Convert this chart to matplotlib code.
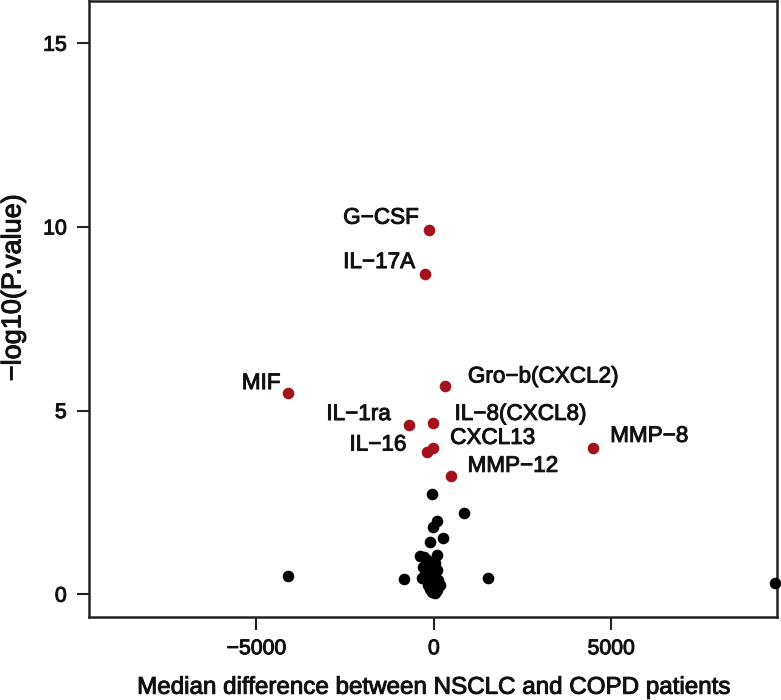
import matplotlib
matplotlib.use("Agg")
import matplotlib.pyplot as plt
import matplotlib.patheffects as pe

plt.rcParams['font.family'] = ['Liberation Sans', 'DejaVu Sans']

# Significant (labelled, red) cytokines
sig_names = ["G−CSF", "IL−17A", "MIF", "Gro−b(CXCL2)", "IL−1ra", "IL−8(CXCL8)",
             "IL−16", "CXCL13", "MMP−12", "MMP−8"]
sig_x = [-150, -245, -4120, 310, -705, -37, -205, -20, 470, 4490]
sig_y = [9.91, 8.73, 5.49, 5.67, 4.62, 4.65, 3.87, 3.97, 3.21, 3.97]

# Non-significant (black) cytokines
ns_x = [-48, 855, 75, -37, 263, -113, -395, 75, -207, -300, -65, -837, 1512,
        -347, -20, 170, -65, -160, 75, -160, -20, 28, -4100, 9600, -250, 120,
        -120, 40, -280, 100, 0, -80]
ns_y = [2.72, 2.21, 2.00, 1.82, 1.54, 1.42, 1.03, 1.06, 0.93, 0.74, 0.79, 0.41,
        0.45, 0.43, 0.47, 0.25, 0.06, 0.25, 0.65, 0.61, 0.29, 0.02, 0.49, 0.30,
        0.55, 0.38, 0.15, 0.85, 1.0, 0.12, 0.70, 0.35]

# label offsets (pixels): (dx, dy, ha)
label_off = [(-10, 12, 'right'), (-10, 11, 'right'), (-7, 9, 'right'),
             (23, 9, 'left'), (-18, 10, 'right'), (22, 9, 'left'),
             (-20, 7, 'right'), (17, 10, 'left'), (17, 10, 'left'),
             (17, 12, 'left')]

heavy = [pe.withStroke(linewidth=0.7, foreground='#111111')]

fig = plt.figure(figsize=(7.81, 7.00), dpi=100)
ax = fig.add_axes([89/781, 83/700, 688/781, 616/700])

red = '#A3121A'
ax.scatter(ns_x, ns_y, s=70, color='black', linewidths=0, zorder=3, clip_on=False)
ax.scatter(sig_x, sig_y, s=70, color=red, linewidths=0, zorder=3)

for name, x, y, (dx, dy, ha) in zip(sig_names, sig_x, sig_y, label_off):
    ax.annotate(name, (x, y), xytext=(dx * 0.72, dy * 0.72), textcoords='offset points',
                ha=ha, va='center', fontsize=16.2, color='#111111', path_effects=heavy)

ax.set_xlim(-9720, 9670)
ax.set_ylim(-0.62, 16.15)
ax.set_xticks([-5000, 0, 5000])
ax.set_yticks([0, 5, 10, 15])
ax.tick_params(axis='both', direction='out', length=9, width=1.5, labelsize=15.3,
               colors='#222222', labelcolor='#111111')
ax.tick_params(axis='x', pad=7)
ax.tick_params(axis='y', pad=7)
for lbl in ax.get_xticklabels() + ax.get_yticklabels():
    lbl.set_path_effects(heavy)
for s in ax.spines.values():
    s.set_linewidth(1.8)
    s.set_color('#222222')

ax.set_xlabel("Median difference between NSCLC and COPD patients", fontsize=17.4,
              color='#111111', path_effects=heavy)
ax.set_ylabel("−log10(P.value)", fontsize=19.5, color='#111111', path_effects=heavy)
ax.xaxis.set_label_coords(0.5, -0.097)
ax.yaxis.set_label_coords(-0.091, 0.535)

fig.savefig("out.png", dpi=100)
